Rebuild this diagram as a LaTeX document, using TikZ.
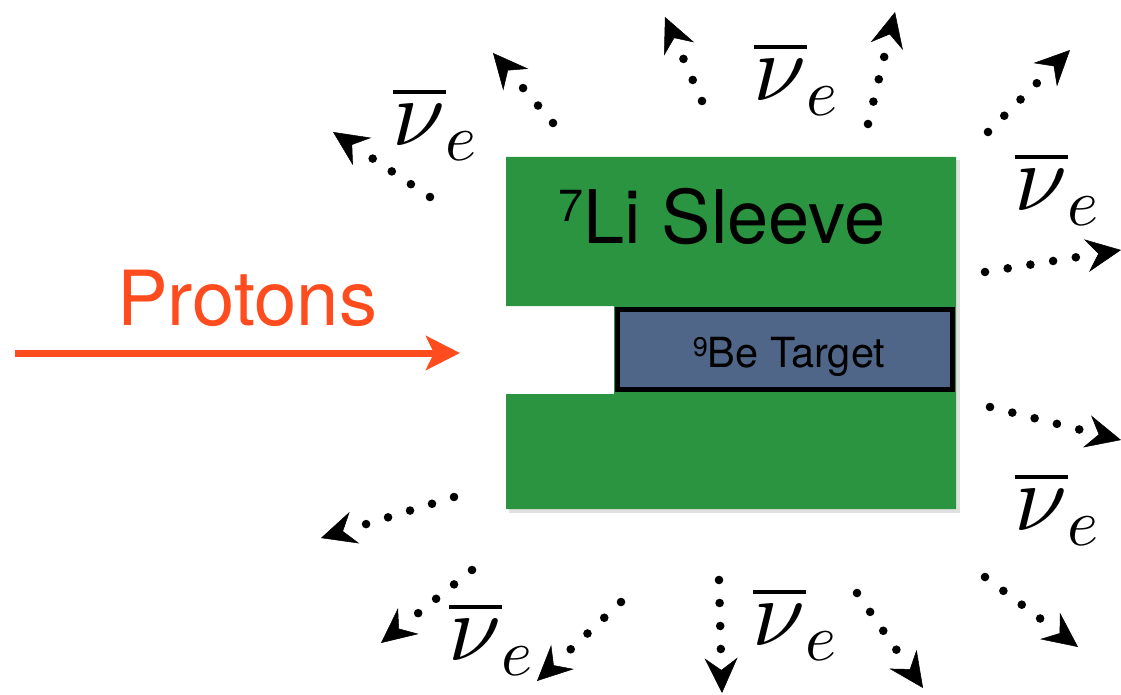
\documentclass[tikz,border=0pt]{standalone}
\DeclareFontShape{OML}{cmm}{m}{it}{<-> cmmi10}{}
\DeclareFontShape{OMS}{cmsy}{m}{n}{<-> cmsy10}{}
\DeclareFontShape{OMX}{cmex}{m}{n}{<-> cmex10}{}
\DeclareFontShape{OT1}{cmr}{m}{n}{<-> cmr10}{}
\usepackage{fontspec}
\setmainfont{TeX Gyre Heros}
\usetikzlibrary{arrows.meta,calc}
\definecolor{sleeve}{RGB}{42,148,64}
\definecolor{target}{RGB}{80,102,136}
\definecolor{proton}{RGB}{255,76,30}
\newcommand{\isotope}[3]{\raisebox{#3pt}{\fontsize{#2}{#2}\selectfont #1}}
\tikzset{
  nudots/.style={line width=8.6pt, line cap=round, dash pattern=on 0pt off 23pt, shorten >=36pt},
  nutip/.style={draw=white, line width=0.5pt, -{Stealth[length=35pt,width=33pt,inset=12pt,color=black]}},
  nulabel/.style={inner sep=0pt, font=\fontsize{95}{100}\selectfont},
}
\begin{document}
\begin{tikzpicture}[x=1pt,y=-1pt]
\useasboundingbox (0,0) rectangle (1121,695);
% soft shadow of the sleeve
\fill[black!12] (956,160) rectangle (960,513);
\fill[black!12] (509,509) rectangle (960,513);
% sleeve with notch
\fill[sleeve] (506,157) -- (956,157) -- (956,509) -- (506,509) -- (506,394) -- (614,394) -- (614,306) -- (506,306) -- cycle;
\node[anchor=base, inner sep=0pt, font=\fontsize{74}{80}\selectfont] (sleevelabel) at (722,243) {\isotope{7}{45}{21}Li Sleeve};
% target
\node[draw=black, line width=5pt, fill=target, minimum width=335.5pt, minimum height=80pt, inner sep=0pt] (be) at (784.75,349.5) {};
\node[anchor=base, inner sep=0pt, font=\fontsize{41.5}{46}\selectfont] (belabel) at (789,367) {\isotope{9}{27}{11}Be Target};
% protons
\coordinate (pstart) at (15,353);
\coordinate (pend) at (460,353);
\draw[proton, line width=7pt, -{Stealth[length=34pt,width=34pt,inset=8pt]}] (pstart) -- (pend);
\node[anchor=base, text=proton, inner sep=0pt, font=\fontsize{76}{80}\selectfont] (protons) at (247,325) {Protons};
% neutrino labels
\node[nulabel] (nu1) at (435,123) {$\overline{\nu}_e$};
\node[nulabel] (nu2) at (796,78) {$\overline{\nu}_e$};
\node[nulabel] (nu3) at (1057,188) {$\overline{\nu}_e$};
\node[nulabel] (nu4) at (1057,508) {$\overline{\nu}_e$};
\node[nulabel] (nu5) at (491,638) {$\overline{\nu}_e$};
\node[nulabel] (nu6) at (795,623) {$\overline{\nu}_e$};
% neutrino arrows
\coordinate (s1) at (430,197);  \coordinate (t1) at (333,132);
\coordinate (s2) at (553,123);  \coordinate (t2) at (493,53);
\coordinate (s3) at (702,101);  \coordinate (t3) at (665,17);
\coordinate (s4) at (868,124);  \coordinate (t4) at (895,12);
\coordinate (s5) at (988,132);  \coordinate (t5) at (1070,50);
\coordinate (s6) at (985,272);  \coordinate (t6) at (1121,250);
\coordinate (s7) at (990,407);  \coordinate (t7) at (1121,440);
\coordinate (s8) at (985,577);  \coordinate (t8) at (1078,647);
\coordinate (s9) at (857,593);  \coordinate (t9) at (923,688);
\coordinate (s10) at (719,580); \coordinate (t10) at (722,693);
\coordinate (s11) at (454,497); \coordinate (t11) at (321,538);
\coordinate (s12) at (472,570); \coordinate (t12) at (381,643);
\coordinate (s13) at (621,602); \coordinate (t13) at (537,681);
\foreach \i in {1,...,13} {
  \draw[nutip] ($(t\i)!40pt!(s\i)$) -- (t\i);
  \draw[nudots] (s\i) -- (t\i);
}
\end{tikzpicture}
\end{document}
